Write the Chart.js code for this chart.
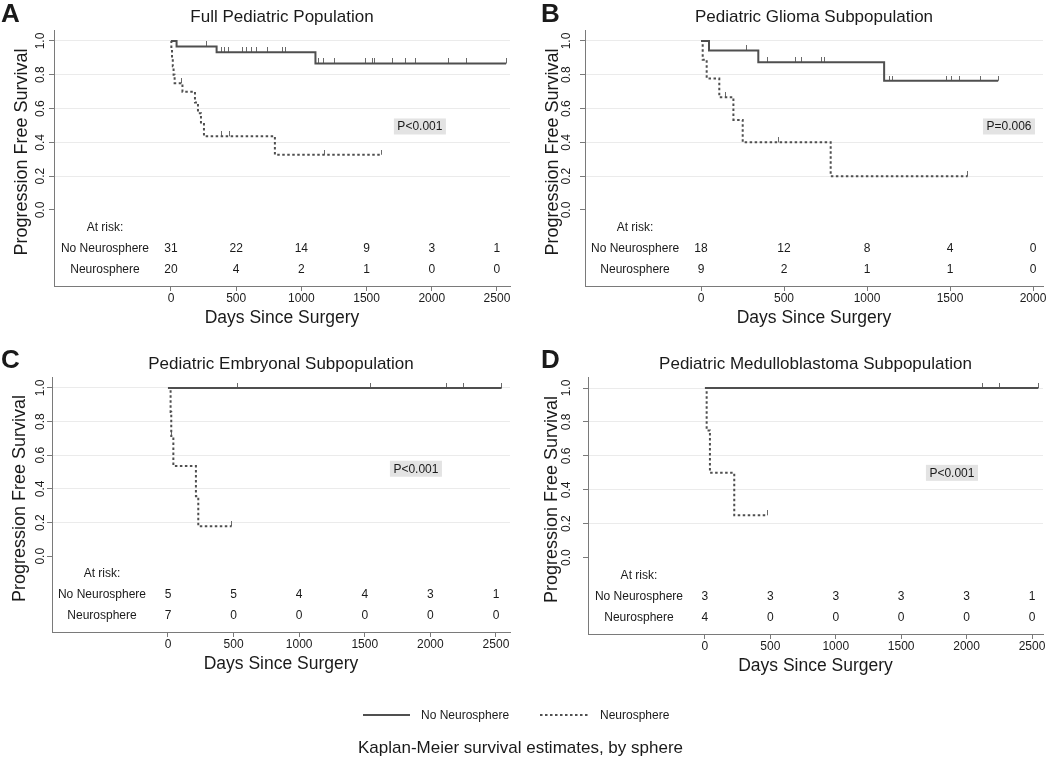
<!DOCTYPE html>
<html><head><meta charset="utf-8">
<script src="https://cdn.jsdelivr.net/npm/chart.js@4.4.1/dist/chart.umd.min.js"></script>
<style>
body{margin:0;background:#fff;width:1050px;height:758px;position:relative;overflow:hidden;font-family:"Liberation Sans",Arial,Helvetica,sans-serif;color:#1a1a1a;}
canvas{position:absolute;}
.leg{position:absolute;font-size:12px;line-height:14px;white-space:nowrap;}
</style></head><body>
<canvas id="cA" width="525" height="345" style="left:0;top:0"></canvas>
<canvas id="cB" width="525" height="345" style="left:525px;top:0"></canvas>
<canvas id="cC" width="525" height="345" style="left:0;top:345px"></canvas>
<canvas id="cD" width="525" height="345" style="left:525px;top:345px"></canvas>
<svg style="position:absolute;left:0;top:0" width="1050" height="758">
  <line x1="363" y1="715" x2="410" y2="715" stroke="#505050" stroke-width="2"/>
  <line x1="540" y1="715" x2="590" y2="715" stroke="#505050" stroke-width="2" stroke-dasharray="2.5,2.5"/>
</svg>
<div class="leg" style="left:421px;top:708px">No Neurosphere</div>
<div class="leg" style="left:600px;top:708px">Neurosphere</div>
<div class="leg" style="left:358px;top:738px;font-size:17px;line-height:20px">Kaplan-Meier survival estimates, by sphere</div>
<script>
// ---------- data ----------
const yTicks = [0, 0.2, 0.4, 0.6, 0.8, 1.0];
const xTicksA = [0, 500, 1000, 1500, 2000, 2500];
const xTicksB = [0, 500, 1000, 1500, 2000];
const xTicksC = [0, 500, 1000, 1500, 2000, 2500];
const xTicksD = [0, 500, 1000, 1500, 2000, 2500];

const titles = ["Full Pediatric Population", "Pediatric Glioma Subpopulation",
  "Pediatric Embryonal Subpopulation", "Pediatric Medulloblastoma Subpopulation"];
const letters = ["A", "B", "C", "D"];
const pValues = ["P<0.001", "P=0.006", "P<0.001", "P<0.001"];
const seriesNames = ["No Neurosphere", "Neurosphere"];

// Panel A
const noNeuroA = [[0,1],[43,0.968],[350,0.933],[1108,0.867],[2570,0.867]];
const neuroA = [[0,1],[3,0.95],[8,0.90],[14,0.85],[20,0.80],[28,0.75],[88,0.70],[184,0.636],[207,0.573],[230,0.509],[253,0.436],[797,0.327],[1615,0.327]];
const censNoNeuroA = [[274,0.968],[389,0.933],[414,0.933],[440,0.933],[552,0.933],[583,0.933],[619,0.933],[657,0.933],[738,0.933],[853,0.933],[877,0.933],
  [1131,0.867],[1169,0.867],[1254,0.867],[1492,0.867],[1546,0.867],[1562,0.867],[1700,0.867],[1800,0.867],[1877,0.867],[2131,0.867],[2269,0.867],[2570,0.867]];
const censNeuroA = [[80,0.75],[389,0.436],[452,0.436],[1181,0.327],[1615,0.327]];
const riskNoNeuroA = [31, 22, 14, 9, 3, 1];
const riskNeuroA = [20, 4, 2, 1, 0, 0];

// Panel B
const noNeuroB = [[0,1],[48,0.944],[345,0.874],[1103,0.765],[1790,0.765]];
const neuroB = [[0,1],[10,0.889],[34,0.778],[110,0.667],[195,0.533],[251,0.4],[781,0.2],[1606,0.2]];
const censNoNeuroB = [[275,0.944],[398,0.874],[572,0.874],[607,0.874],[727,0.874],[743,0.874],
  [1134,0.765],[1155,0.765],[1480,0.765],[1510,0.765],[1560,0.765],[1686,0.765],[1790,0.765]];
const censNeuroB = [[145,0.667],[466,0.4],[1606,0.2]];
const riskNoNeuroB = [18, 12, 8, 4, 0];
const riskNeuroB = [9, 2, 1, 1, 0];

// Panel C
const noNeuroC = [[0,1],[2543,1]];
const neuroC = [[0,1],[20,0.857],[25,0.714],[41,0.536],[213,0.357],[231,0.179],[485,0.179]];
const censNoNeuroC = [[531,1],[1540,1],[2124,1],[2250,1],[2543,1]];
const censNeuroC = [[30,0.714],[485,0.179]];
const riskNoNeuroC = [5, 5, 4, 4, 3, 1];
const riskNeuroC = [7, 0, 0, 0, 0, 0];

// Panel D
const noNeuroD = [[0,1],[2548,1]];
const neuroD = [[0,1],[13,0.75],[38,0.5],[224,0.25],[480,0.25]];
const censNoNeuroD = [[2120,1],[2250,1],[2548,1]];
const censNeuroD = [[480,0.25]];
const riskNoNeuroD = [3, 3, 3, 3, 3, 1];
const riskNeuroD = [4, 0, 0, 0, 0, 0];

// p-value label anchors (data coordinates)
const pAtA = [1909, 0.494], pAtB = [1855, 0.494], pAtC = [1890, 0.52], pAtD = [1888, 0.50];

// ---------- layout ----------
const FONT = '"Liberation Sans", Arial, Helvetica, sans-serif';
const LINE = '#4f4f4f', AXIS = '#7a7a7a', GRID = '#ebebeb', TXT = '#1a1a1a';
const XAXIS_H = 30;

const tickImg = (() => {
  const c = document.createElement('canvas'); c.width = 1; c.height = 10;
  const g = c.getContext('2d'); g.fillStyle = '#6a6a6a'; g.fillRect(0, 0, 1, 5);
  return c;
})();

const toXY = a => a.map(p => ({x: p[0], y: p[1]}));

const kmPlugin = {
  id: 'km',
  afterDraw(chart, args, o) {
    const ctx = chart.ctx, ca = chart.chartArea, xs = chart.scales.x, ys = chart.scales.y;
    ctx.save();
    ctx.fillStyle = TXT;
    ctx.font = 'bold 26px ' + FONT; ctx.textAlign = 'left'; ctx.textBaseline = 'alphabetic';
    ctx.fillText(o.letter, o.letterX, o.letterY);
    ctx.textAlign = 'center'; ctx.textBaseline = 'middle';
    ctx.font = '17px ' + FONT;
    ctx.fillText(o.title, (ca.left + ca.right) / 2, ca.top - 13);
    ctx.font = '17.5px ' + FONT;
    ctx.fillText('Days Since Surgery', (ca.left + ca.right) / 2, ca.bottom + 32);
    ctx.save();
    ctx.translate(ca.left - o.yTitleOff, (ca.top + ca.bottom) / 2 - 6); ctx.rotate(-Math.PI / 2);
    ctx.font = '18px ' + FONT; ctx.fillText('Progression Free Survival', 0, 0);
    ctx.restore();
    ctx.font = '12px ' + FONT;
    yTicks.forEach(v => {
      ctx.save(); ctx.translate(ca.left - o.yTickOff, ys.getPixelForValue(v)); ctx.rotate(-Math.PI / 2);
      ctx.fillText(v.toFixed(1), 0, 0); ctx.restore();
    });
    const lx = xs.getPixelForValue(0) - 66;
    const r0 = ys.getPixelForValue(-0.105), r1 = ys.getPixelForValue(-0.23), r2 = ys.getPixelForValue(-0.353);
    ctx.fillText('At risk:', lx, r0);
    ctx.fillText(seriesNames[0], lx, r1);
    ctx.fillText(seriesNames[1], lx, r2);
    o.riskTimes.forEach((t, i) => {
      const px = xs.getPixelForValue(t);
      ctx.fillText(String(o.riskNo[i]), px, r1);
      ctx.fillText(String(o.riskNeuro[i]), px, r2);
    });
    const w = ctx.measureText(o.pText).width + 7;
    const px = xs.getPixelForValue(o.pAt[0]), py = ys.getPixelForValue(o.pAt[1]);
    ctx.fillStyle = '#e3e3e3'; ctx.fillRect(px - w / 2, py - 8, w, 16);
    ctx.fillStyle = TXT; ctx.fillText(o.pText, px, py + 0.5);
    ctx.restore();
  }
};

function makeChart(id, cfg) {
  return new Chart(document.getElementById(id), {
    type: 'scatter',
    data: {
      datasets: [
        {data: toXY(cfg.noNeuro), showLine: true, stepped: true, borderColor: LINE, borderWidth: 2, pointRadius: 0, fill: false},
        {data: toXY(cfg.neuro), showLine: true, stepped: true, borderColor: LINE, borderWidth: 2, borderDash: [2.5, 2.5], pointRadius: 0, fill: false},
        {data: toXY(cfg.censNo), showLine: false, pointStyle: tickImg, pointRadius: 4},
        {data: toXY(cfg.censNeuro), showLine: false, pointStyle: tickImg, pointRadius: 4}
      ]
    },
    options: {
      responsive: false, animation: false, devicePixelRatio: 1,
      layout: {padding: cfg.pad},
      plugins: {legend: {display: false}, tooltip: {enabled: false}, title: {display: false},
        km: {letter: cfg.letter, letterX: cfg.letterX, letterY: cfg.letterY, title: cfg.title,
             yTickOff: cfg.yTickOff, yTitleOff: cfg.yTitleOff,
             riskTimes: cfg.xTicks, riskNo: cfg.riskNo, riskNeuro: cfg.riskNeuro, pText: cfg.pText, pAt: cfg.pAt}},
      scales: {
        x: {type: 'linear', min: cfg.xmin, max: cfg.xmax,
            afterBuildTicks: s => { s.ticks = cfg.xTicks.map(v => ({value: v})); },
            afterFit: s => { s.height = XAXIS_H; },
            ticks: {autoSkip: false, maxRotation: 0, minRotation: 0, padding: 0, color: TXT,
                    font: {size: 12, family: FONT}, callback: v => String(v)},
            grid: {drawOnChartArea: false, drawTicks: true, tickLength: 5, tickColor: AXIS},
            border: {display: true, color: AXIS, width: 1}},
        y: {type: 'linear', min: -0.45, max: 1.065,
            afterBuildTicks: s => { s.ticks = yTicks.map(v => ({value: v})); },
            afterFit: s => { s.width = 0; },
            ticks: {display: false},
            grid: {drawOnChartArea: true, drawTicks: true, tickLength: 5, tickColor: AXIS,
                   color: c => (c.tick && c.tick.value === 0) ? 'rgba(0,0,0,0)' : GRID, lineWidth: 1},
            border: {display: true, color: AXIS, width: 1}}
      }
    },
    plugins: [kmPlugin]
  });
}

makeChart('cA', {noNeuro: noNeuroA, neuro: neuroA, censNo: censNoNeuroA, censNeuro: censNeuroA,
  xTicks: xTicksA, riskNo: riskNoNeuroA, riskNeuro: riskNeuroA, pText: pValues[0], pAt: pAtA,
  letter: letters[0], title: titles[0], letterX: 1, letterY: 22, yTickOff: 13, yTitleOff: 32,
  pad: {left: 54, right: 15, top: 30, bottom: 59 - XAXIS_H}, xmin: -897, xmax: 2600});
makeChart('cB', {noNeuro: noNeuroB, neuro: neuroB, censNo: censNoNeuroB, censNeuro: censNeuroB,
  xTicks: xTicksB, riskNo: riskNoNeuroB, riskNeuro: riskNeuroB, pText: pValues[1], pAt: pAtB,
  letter: letters[1], title: titles[1], letterX: 16, letterY: 22, yTickOff: 18, yTitleOff: 32,
  pad: {left: 60, right: 7, top: 30, bottom: 59 - XAXIS_H}, xmin: -699, xmax: 2060});
makeChart('cC', {noNeuro: noNeuroC, neuro: neuroC, censNo: censNoNeuroC, censNeuro: censNeuroC,
  xTicks: xTicksC, riskNo: riskNoNeuroC, riskNeuro: riskNeuroC, pText: pValues[2], pAt: pAtC,
  letter: letters[2], title: titles[2], letterX: 1, letterY: 23, yTickOff: 11, yTitleOff: 32,
  pad: {left: 52, right: 15, top: 32, bottom: 58 - XAXIS_H}, xmin: -884, xmax: 2607});
makeChart('cD', {noNeuro: noNeuroD, neuro: neuroD, censNo: censNoNeuroD, censNeuro: censNeuroD,
  xTicks: xTicksD, riskNo: riskNoNeuroD, riskNeuro: riskNeuroD, pText: pValues[3], pAt: pAtD,
  letter: letters[3], title: titles[3], letterX: 16, letterY: 23, yTickOff: 21, yTitleOff: 36,
  pad: {left: 63, right: 7, top: 32, bottom: 56 - XAXIS_H}, xmin: -894, xmax: 2584});
</script>
</body></html>
